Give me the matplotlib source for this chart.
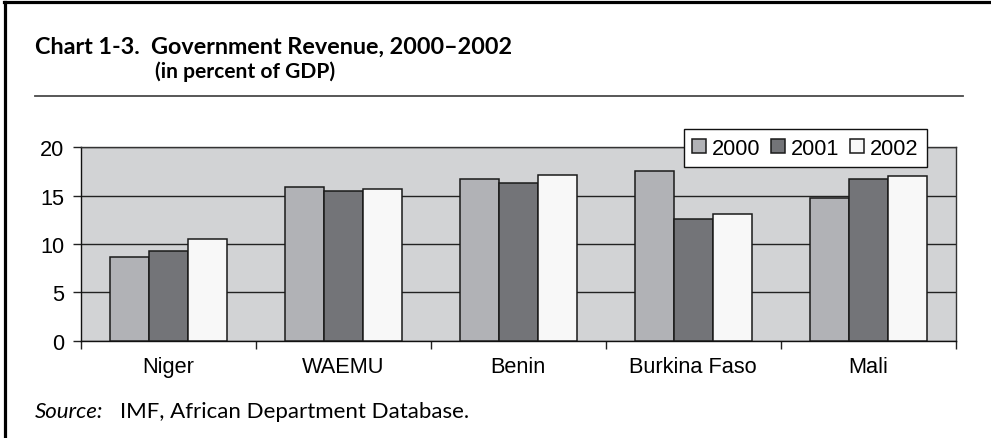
import numpy as np
import matplotlib.pyplot as plt
from matplotlib.lines import Line2D

countries = ["Niger", "WAEMU", "Benin", "Burkina Faso", "Mali"]
years = ["2000", "2001", "2002"]
rev_2000 = [8.7, 15.9, 16.7, 17.5, 14.8]
rev_2001 = [9.3, 15.5, 16.3, 12.6, 16.7]
rev_2002 = [10.5, 15.7, 17.1, 13.1, 17.0]
yticks = [0, 5, 10, 15, 20]

colors = ["#b1b2b6", "#737478", "#f8f8f8"]
lab_font = "Liberation Sans"
lab_size = 15.7

fig = plt.figure(figsize=(9.91, 4.39), dpi=100)
fig.patch.set_facecolor("white")

# frame lines (left and top)
fig.add_artist(Line2D([0.005, 0.005], [0, 0.993], color="black", lw=2.3, transform=fig.transFigure))
fig.add_artist(Line2D([0.004, 1.0], [0.993, 0.993], color="black", lw=2.3, transform=fig.transFigure))

# title block
fig.text(35 / 991, 1 - 47.5 / 439, "Chart 1-3.  Government Revenue, 2000\u20132002",
         fontfamily="Lato", fontweight="bold", fontsize=16.8, va="center", ha="left")
fig.text(155 / 991, 1 - 72 / 439, "(in percent of GDP)",
         fontfamily="Lato", fontweight="bold", fontsize=15.1, va="center", ha="left")
fig.add_artist(Line2D([35 / 991, 963 / 991], [1 - 97 / 439, 1 - 97 / 439],
                      color="#4a4a4a", lw=1.3, transform=fig.transFigure))

ax = fig.add_axes([81 / 991, 97.3 / 439, 874.7 / 991, 193.4 / 439])
ax.set_facecolor("#d2d3d5")

x = np.arange(len(countries))
w = 0.223
series = [rev_2000, rev_2001, rev_2002]
for i, vals in enumerate(series):
    ax.bar(x + (i - 1) * w, vals, width=w, color=colors[i], edgecolor="#1a1a1a",
           linewidth=1.1, label=years[i], zorder=3)

ax.set_xlim(-0.5, len(countries) - 0.5)
ax.set_ylim(0, 20)
ax.set_yticks(yticks)
ax.set_yticklabels([str(t) for t in yticks], fontfamily=lab_font, fontsize=lab_size)
ax.yaxis.grid(True, color="#222222", linewidth=1.0, zorder=1)
ax.set_axisbelow(True)

ax.set_xticks(np.arange(len(countries) + 1) - 0.5)
ax.set_xticklabels([])
ax.set_xticks(x, minor=True)
ax.set_xticklabels(countries, minor=True, fontfamily=lab_font, fontsize=lab_size)
ax.tick_params(axis="x", which="major", direction="out", length=5.8, width=1, color="#222222")
ax.tick_params(axis="x", which="minor", length=0, pad=11)
ax.tick_params(axis="y", direction="out", length=5.8, width=1, color="#222222", pad=6)

for s in ax.spines.values():
    s.set_color("#333333")
    s.set_linewidth(1.0)
ax.spines["left"].set_color("#111111")
ax.spines["bottom"].set_color("#111111")

leg = ax.legend(ncol=3, loc="upper right", bbox_to_anchor=(927 / 991, 1 - 130 / 439),
                bbox_transform=fig.transFigure, frameon=True, fancybox=False,
                prop={"family": lab_font, "size": lab_size},
                handlelength=0.65, handleheight=0.65, handletextpad=0.25,
                columnspacing=0.5, borderpad=0.4, borderaxespad=0)
leg.get_frame().set_edgecolor("#111111")
leg.get_frame().set_linewidth(1.0)
leg.get_frame().set_facecolor("white")
leg.get_frame().set_alpha(1)
leg.set_zorder(5)

fig.text(35 / 991, 1 - 412 / 439, "Source:", fontfamily="Lato", fontstyle="italic",
         fontsize=16, va="center", ha="left")
fig.text(120 / 991, 1 - 412 / 439, "IMF, African Department Database.", fontfamily="Lato",
         fontsize=16, va="center", ha="left")

fig.savefig("out.png", dpi=100)
